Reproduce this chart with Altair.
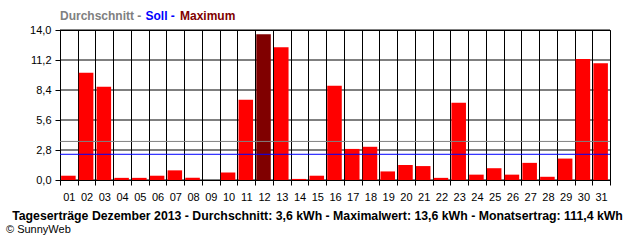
import altair as alt
import pandas as pd

days = [f"{d:02d}" for d in range(1, 32)]
values = [0.4, 10.0, 8.7, 0.2, 0.2, 0.4, 0.9, 0.2, 0.0, 0.7,
          7.5, 13.6, 12.4, 0.1, 0.4, 8.8, 2.9, 3.1, 0.8, 1.4,
          1.3, 0.2, 7.2, 0.5, 1.1, 0.5, 1.6, 0.3, 2.0, 11.3, 10.9]
average = [3.6]
target = [2.4]
y_ticks = [0.0, 2.8, 5.6, 8.4, 11.2, 14.0]

max_val = max(values)
df = pd.DataFrame({"day": days, "value": values})
df["kind"] = ["max" if v == max_val else "normal" for v in values]

FONT = "Liberation Sans"

x_enc = alt.X("day:N", sort=days,
              scale=alt.Scale(paddingInner=0, paddingOuter=0),
              axis=alt.Axis(title=None, labelAngle=0, tickBand="extent",
                            grid=True, gridColor="black", gridOpacity=1, gridWidth=1,
                            tickColor="black", tickSize=5, domainColor="black",
                            labelFont=FONT, labelFontSize=11, labelColor="black",
                            labelPadding=6, labelOverlap=False))
y_scale = alt.Scale(domain=[0, 14], nice=False, zero=True)
y_axis = alt.Axis(title=None, values=y_ticks,
                  labelExpr="replace(format(datum.value, '.1f'), '.', ',')",
                  grid=False, ticks=True,
                  tickColor="black", tickSize=5, domainColor="black",
                  labelFont=FONT, labelFontSize=11, labelColor="black",
                  labelPadding=4, labelOverlap=False, labelBound=False,
                  labelFlush=False)

grid_lines = alt.Chart(pd.DataFrame({"value": y_ticks})).mark_rule(
    color="black", strokeWidth=1).encode(
    y=alt.Y("value:Q", scale=y_scale, axis=y_axis))

bars = alt.Chart(df).mark_bar(width={"band": 0.82}, xOffset=-0.5).encode(
    x=x_enc,
    y=alt.Y("value:Q", scale=y_scale, axis=y_axis),
    color=alt.Color("kind:N", scale=alt.Scale(domain=["normal", "max"],
                                              range=["#FF0000", "#800000"]),
                    legend=None),
)

avg_rule = alt.Chart(pd.DataFrame({"value": average})).mark_rule(
    color="#808080", strokeWidth=1).encode(y=alt.Y("value:Q", scale=y_scale, axis=y_axis))
tgt_rule = alt.Chart(pd.DataFrame({"value": target})).mark_rule(
    color="#0000FF", strokeWidth=1).encode(y=alt.Y("value:Q", scale=y_scale, axis=y_axis))

def txt(text, x, y, color, size, weight, align="left"):
    return alt.Chart(pd.DataFrame({"t": [text]})).mark_text(
        align=align, baseline="middle", font=FONT, fontSize=size,
        fontWeight=weight, color=color
    ).encode(text="t:N", x=alt.value(x), y=alt.value(y))

legend1 = txt("Durchschnitt -", 0, -14, "#808080", 12, "bold")
legend2 = txt("Soll -", 85.5, -14, "#0000FF", 12, "bold")
legend3 = txt("Maximum", 120, -14, "#800000", 12, "bold")
title = txt("Tageserträge Dezember 2013 - Durchschnitt: 3,6 kWh - Maximalwert: 13,6 kWh - Monatsertrag: 111,4 kWh",
            257.5, 185.7, "black", 12.3, "bold", align="center")
copyright_ = txt("© SunnyWeb", -54, 199.5, "black", 11, "normal")

chart = alt.layer(grid_lines, bars, avg_rule, tgt_rule, legend1, legend2, legend3, title, copyright_).properties(
    width=550, height=150,
    padding={"left": 60, "top": 30, "right": 30, "bottom": 60},
    autosize=alt.AutoSizeParams(type="none"),
    background="white",
).configure_view(stroke="black", strokeWidth=1)

chart.save("out.html", embed_options={"renderer": "svg", "actions": False})
